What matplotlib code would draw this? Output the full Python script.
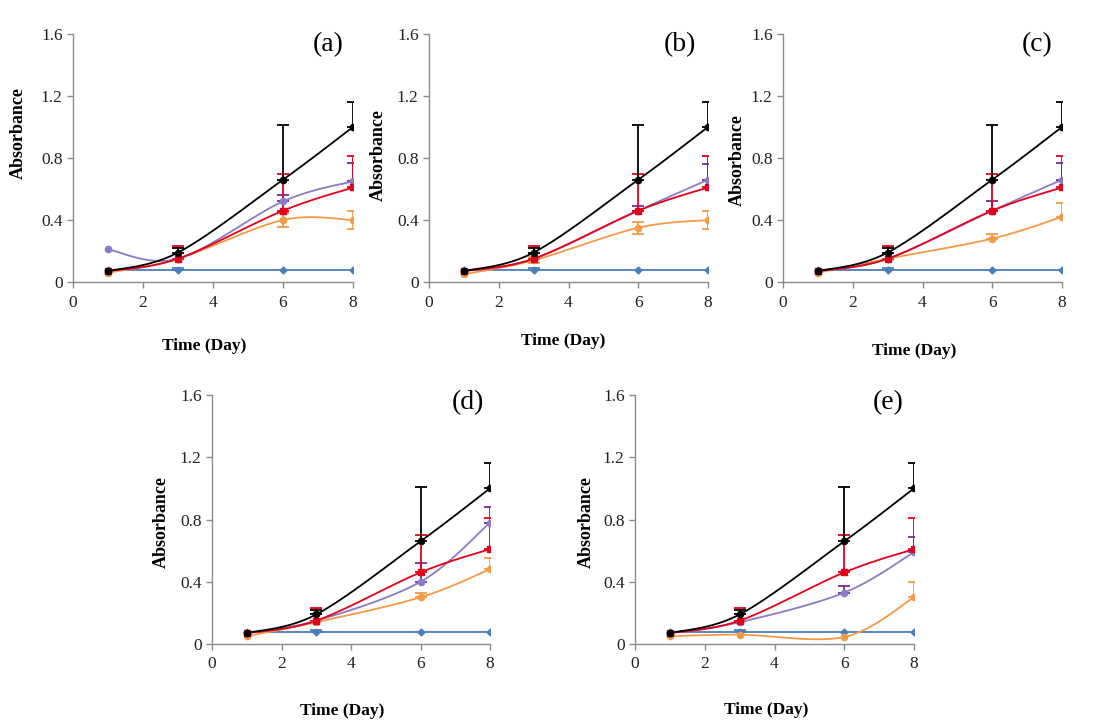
import numpy as np
import matplotlib
matplotlib.use("Agg")
import matplotlib.pyplot as plt

plt.rcParams['font.family'] = ['Liberation Serif', 'DejaVu Serif']

days = [1, 3, 6, 8]
panel_labels = ['(a)', '(b)', '(c)', '(d)', '(e)']

black_vals = [0.07, 0.19, 0.66, 1.00]
black_err = [0.0, 0.03, 0.35, 0.16]
red_vals = [0.07, 0.15, 0.46, 0.61]
red_err = [0.0, 0.08, 0.24, 0.20]
blue_vals = [0.08, 0.08, 0.08, 0.08]
blue_err = [0.0, 0.01, 0.0, 0.0]

purple_a = [0.21, 0.15, 0.52, 0.65]
purple_a_err = [0.0, 0.0, 0.04, 0.12]
purple_b = [0.07, 0.15, 0.46, 0.66]
purple_b_err = [0.0, 0.0, 0.03, 0.10]
purple_c = [0.07, 0.15, 0.46, 0.66]
purple_c_err = [0.0, 0.0, 0.06, 0.11]
purple_d = [0.07, 0.15, 0.40, 0.78]
purple_d_err = [0.0, 0.0, 0.12, 0.10]
purple_e = [0.07, 0.14, 0.33, 0.59]
purple_e_err = [0.0, 0.0, 0.04, 0.10]

orange_a = [0.06, 0.15, 0.40, 0.40]
orange_a_err = [0.0, 0.0, 0.045, 0.06]
orange_b = [0.05, 0.14, 0.35, 0.40]
orange_b_err = [0.0, 0.02, 0.04, 0.06]
orange_c = [0.06, 0.15, 0.28, 0.42]
orange_c_err = [0.0, 0.0, 0.03, 0.09]
orange_d = [0.05, 0.14, 0.30, 0.48]
orange_d_err = [0.0, 0.0, 0.03, 0.07]
orange_e = [0.05, 0.06, 0.045, 0.30]
orange_e_err = [0.0, 0.0, 0.0, 0.10]
orange_both_sides = [True, True, False, False, False]

purples = [purple_a, purple_b, purple_c, purple_d, purple_e]
purple_errs = [purple_a_err, purple_b_err, purple_c_err, purple_d_err, purple_e_err]
oranges = [orange_a, orange_b, orange_c, orange_d, orange_e]
orange_errs = [orange_a_err, orange_b_err, orange_c_err, orange_d_err, orange_e_err]

C_BLACK = '#000000'
C_RED = '#E3001B'
C_PURPLE_LINE = '#8B7BC4'
C_PURPLE_ERR = '#7A2A9A'
C_ORANGE = '#F59A45'
C_BLUE = '#4A7EBB'

# axes positions in pixels: (left, top, right, bottom)
W, H = 1101, 722
boxes = [(73, 34, 353, 282), (429, 34, 708, 282), (783, 34, 1062, 282),
         (212, 395, 490, 644), (635, 395, 914, 644)]
ylab_y = [0.60, 0.51, 0.49, 0.49, 0.49]
ylab_x = [-0.165, -0.15, -0.135, -0.15, -0.145]
xlab_x = [0.47, 0.48, 0.47, 0.47, 0.47]
xlab_y = [-0.225, -0.205, -0.245, -0.237, -0.233]
plab_x = [7.29, 7.2, 7.28, 7.37, 7.25]
plab_y = [1.53, 1.53, 1.53, 1.55, 1.55]


def smooth(xs, ys, n=30):
    """Excel-like smoothed line (Catmull-Rom Bezier) through the data points."""
    P = np.column_stack([xs, ys]).astype(float)
    out = [P[0]]
    for i in range(len(P) - 1):
        p0 = P[i - 1] if i > 0 else P[i]
        p1, p2 = P[i], P[i + 1]
        p3 = P[i + 2] if i + 2 < len(P) else P[i + 1]
        c1 = p1 + (p2 - p0) / 6.0
        c2 = p2 - (p3 - p1) / 6.0
        t = np.linspace(0, 1, n)[1:, None]
        seg = ((1 - t) ** 3) * p1 + 3 * ((1 - t) ** 2) * t * c1 + 3 * (1 - t) * t ** 2 * c2 + t ** 3 * p2
        out.extend(seg)
    out = np.array(out)
    return out[:, 0], out[:, 1]


fig = plt.figure(figsize=(W / 100, H / 100), dpi=100)

for k in range(5):
    l, t, r, b = boxes[k]
    ax = fig.add_axes([l / W, 1 - b / H, (r - l) / W, (b - t) / H])

    series = [
        (blue_vals, blue_err, C_BLUE, C_BLUE, 'D', 3.5, False),
        (oranges[k], orange_errs[k], C_ORANGE, C_ORANGE, 'o', 4.5, orange_both_sides[k]),
        (purples[k], purple_errs[k], C_PURPLE_LINE, C_PURPLE_ERR, 'o', 4.5, False),
        (red_vals, red_err, C_RED, C_RED, 's', 4, False),
        (black_vals, black_err, C_BLACK, C_BLACK, 'o', 4.5, False),
    ]
    for vals, err, lc, ec, mk, ms, both in series:
        sx, sy = smooth(days, vals)
        ax.plot(sx, sy, color=lc, lw=1.3, zorder=3)
        idx = [i for i, e in enumerate(err) if e > 0]
        if idx:
            ex = [days[i] for i in idx]
            ey = [vals[i] for i in idx]
            up = [err[i] for i in idx]
            lo = up if both else [0] * len(up)
            ax.errorbar(ex, ey, yerr=[lo, up], fmt='none', ecolor=ec,
                        elinewidth=1.3, capsize=4, capthick=1.3, zorder=2)
        ax.plot(days, vals, ls='none', marker=mk, ms=ms, color=lc, zorder=4)

    ax.set_xlim(0, 8)
    ax.set_ylim(0, 1.6)
    ax.set_xticks([0, 2, 4, 6, 8])
    ax.set_yticks([0, 0.4, 0.8, 1.2, 1.6])
    ax.set_yticklabels(['0', '0.4', '0.8', '1.2', '1.6'])
    for s in ['top', 'right']:
        ax.spines[s].set_visible(False)
    for s in ['left', 'bottom']:
        ax.spines[s].set_color('#8C8C8C')
        ax.spines[s].set_linewidth(1.0)
    ax.tick_params(axis='both', colors='#8C8C8C', labelcolor='#222222',
                   labelsize=12.5, length=4, width=1.0, direction='out')
    ax.tick_params(axis='x', pad=5)
    ax.set_ylabel('Absorbance', fontsize=13, fontweight='bold')
    ax.set_xlabel('Time (Day)', fontsize=12.5, fontweight='bold')
    ax.yaxis.set_label_coords(ylab_x[k], ylab_y[k])
    ax.xaxis.set_label_coords(xlab_x[k], xlab_y[k])
    ax.patch.set_alpha(0)
    ax.text(plab_x[k], plab_y[k], panel_labels[k], fontsize=20,
            ha='center', va='center')
    for lab in ax.get_xticklabels() + ax.get_yticklabels():
        lab.set_clip_on(False)

fig.savefig('out.png', dpi=100)
